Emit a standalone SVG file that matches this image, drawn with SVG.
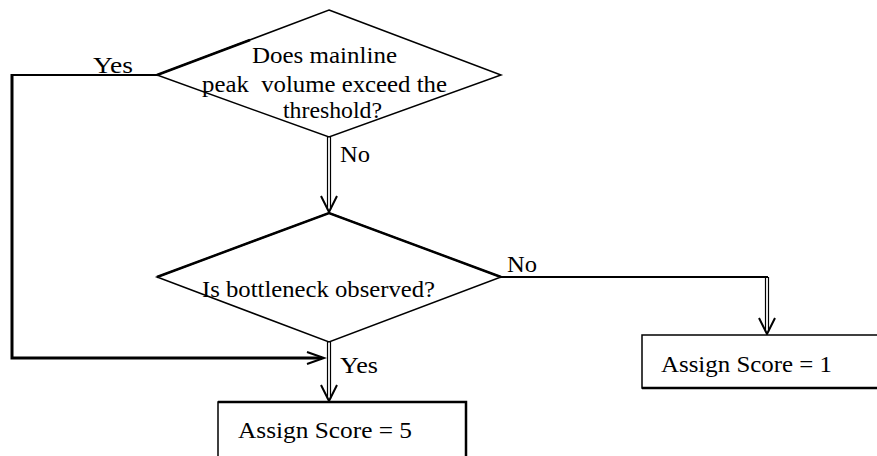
<svg xmlns="http://www.w3.org/2000/svg" width="877" height="456" viewBox="0 0 877 456">
  <style>
    .shape { fill: #ffffff; stroke: #000000; stroke-width: 1.5; }
    .edge { fill: none; stroke: #000000; stroke-linejoin: miter; }
    .shaft { fill: none; stroke: #000000; stroke-width: 1.2; }
    .head { fill: none; stroke: #000000; stroke-width: 2; stroke-linejoin: miter; }
    .heavy { fill: none; stroke: #000000; stroke-width: 2.5; }
    text { font-family: "Liberation Serif", "Times New Roman", serif; font-size: 24px; fill: #000000; }
  </style>
  <rect width="877" height="456" fill="#ffffff"/>

  <!-- connectors -->
  <g id="connectors">
    <!-- Yes branch from the first decision, round the left side -->
    <polyline class="edge" stroke-width="2" points="157,75 12,75"/>
    <polyline class="edge" stroke-width="3" points="12,74 12,358 322,358"/>
    <polyline class="head" points="307,352 324,358 307,364"/>

    <!-- No: first decision down to second decision -->
    <line class="shaft" x1="327.5" y1="137" x2="327.5" y2="210"/>
    <line class="shaft" x1="330.5" y1="137" x2="330.5" y2="210"/>
    <polyline class="head" points="321,196 329,212 337,196"/>

    <!-- Yes: second decision down to score 5 -->
    <line class="shaft" x1="327.5" y1="342" x2="327.5" y2="399"/>
    <line class="shaft" x1="330.5" y1="342" x2="330.5" y2="399"/>
    <polyline class="head" points="321,385 329,401 337,385"/>

    <!-- No: second decision across to score 1 -->
    <polyline class="edge" stroke-width="2" points="501,277 768,277"/>
    <line class="shaft" x1="765.5" y1="277" x2="765.5" y2="332"/>
    <line class="shaft" x1="768.5" y1="277" x2="768.5" y2="332"/>
    <polyline class="head" points="759,318 767,334 775,318"/>
  </g>

  <!-- decision: mainline peak volume -->
  <g id="decision-volume">
    <polygon class="shape" points="329,10 501,75 329,137 157,75"/>
    <line class="heavy" x1="157" y1="75" x2="250" y2="40"/>
    <text x="252" y="63" textLength="145" lengthAdjust="spacingAndGlyphs">Does mainline</text>
    <text x="202" y="92" textLength="245" lengthAdjust="spacingAndGlyphs" xml:space="preserve">peak  volume exceed the</text>
    <text x="283" y="118" textLength="99" lengthAdjust="spacingAndGlyphs">threshold?</text>
  </g>

  <!-- decision: bottleneck -->
  <g id="decision-bottleneck">
    <polygon class="shape" points="329,213 501,277 329,342 157,277"/>
    <polyline class="heavy" points="157,277 329,213 501,277"/>
    <text x="202" y="297" textLength="233" lengthAdjust="spacingAndGlyphs">Is bottleneck observed?</text>
  </g>

  <!-- result: score 5 -->
  <g id="score-5">
    <rect class="shape" x="218" y="402" width="248" height="60"/>
    <polyline class="heavy" points="218,402 466,402 466,462"/>
    <text x="238" y="438" textLength="174" lengthAdjust="spacingAndGlyphs">Assign Score = 5</text>
  </g>

  <!-- result: score 1 -->
  <g id="score-1">
    <rect class="shape" x="642" y="335" width="240" height="53"/>
    <line class="edge" stroke-width="2.5" x1="642" y1="388" x2="882" y2="388"/>
    <text x="661" y="372" textLength="171" lengthAdjust="spacingAndGlyphs">Assign Score = 1</text>
  </g>

  <!-- branch labels -->
  <g id="labels">
    <text x="93" y="73" textLength="40" lengthAdjust="spacingAndGlyphs">Yes</text>
    <text x="340" y="162" textLength="30" lengthAdjust="spacingAndGlyphs">No</text>
    <text x="507" y="272" textLength="30" lengthAdjust="spacingAndGlyphs">No</text>
    <text x="340" y="373" textLength="38" lengthAdjust="spacingAndGlyphs">Yes</text>
  </g>
</svg>
